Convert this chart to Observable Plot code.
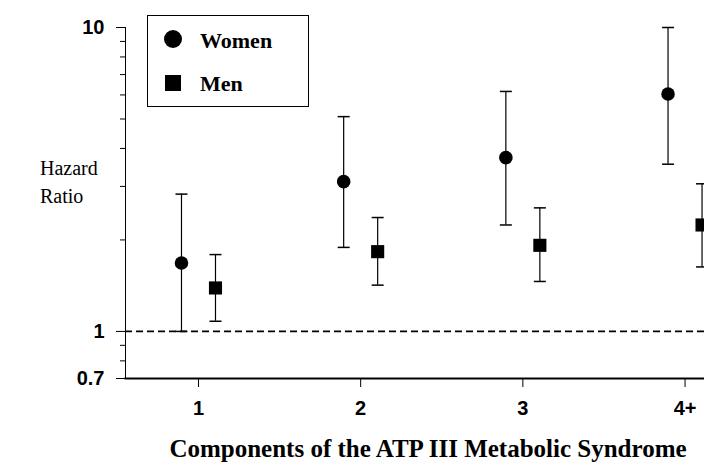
<!DOCTYPE html>
<html>
<head>
<meta charset="utf-8">
<script src="https://cdn.jsdelivr.net/npm/d3@7"></script>
<script src="https://cdn.jsdelivr.net/npm/@observablehq/plot@0.6"></script>
<style>
  html, body { margin: 0; padding: 0; background: #fff; overflow: hidden; }
  #wrap { position: relative; width: 704px; height: 470px; overflow: hidden; }
  #chart svg { display: block; }
  #chart svg text { font-size: 20px !important; font-weight: bold !important; }
  .serif { font-family: "Liberation Serif", "Times New Roman", serif; color: #000; position: absolute; white-space: nowrap; }
  #ylab { left: 40px; top: 154px; font-size: 20px; line-height: 28px; }
  #title { left: 0; width: 856px; text-align: center; top: 435px; font-size: 25px; font-weight: bold; line-height: 28px; }
  #legend { left: 147px; top: 15px; width: 160px; height: 90px; border: 1.5px solid #000; background: #fff; }
  #legend svg { position: absolute; left: 0; top: 0; }
  #legend .lt { position: absolute; left: 52px; font-size: 22px; font-weight: bold; line-height: 24px; }
</style>
</head>
<body>
<div id="wrap">
  <div id="chart"></div>
  <div id="ylab" class="serif">Hazard<br>Ratio</div>
  <div id="title" class="serif">Components of the ATP III Metabolic Syndrome</div>
  <div id="legend" class="serif">
    <svg width="160" height="90">
      <circle cx="25" cy="23" r="9" fill="#000"></circle>
      <rect x="17" y="59" width="16" height="16" fill="#000"></rect>
    </svg>
    <div class="lt" style="top:13px">Women</div>
    <div class="lt" style="top:56px">Men</div>
  </div>
</div>
<script>
// ---- data ----
const categories = ["1", "2", "3", "4+"];
const womenHR = [1.68, 3.11, 3.73, 6.04];
const womenLo = [1.00, 1.89, 2.24, 3.55];
const womenHi = [2.83, 5.09, 6.16, 10.0];
const menHR = [1.39, 1.83, 1.92, 2.24];
const menLo = [1.08, 1.42, 1.46, 1.63];
const menHi = [1.79, 2.37, 2.55, 3.06];
const yMajorTicks = [0.7, 1, 10];
const yMinorTicks = [0.8, 0.9, 2, 3, 4, 5, 6, 7, 8, 9];

const women = categories.map((c, i) => ({k: i + 1, hr: womenHR[i], lo: womenLo[i], hi: womenHi[i]}));
const men = categories.map((c, i) => ({k: i + 1, hr: menHR[i], lo: menLo[i], hi: menHi[i]}));

const cap = {draw(ctx) { ctx.moveTo(-6, 0); ctx.lineTo(6, 0); }};

const chart = Plot.plot({
  width: 704,
  height: 470,
  marginLeft: 125,
  marginTop: 27,
  marginBottom: 92,
  marginRight: 0,
  x: {type: "linear", domain: [0.55, 4.12]},
  y: {type: "log", domain: [0.7, 10]},
  style: {fontFamily: "'Liberation Sans', Arial, sans-serif", fontSize: "20px", fontWeight: "bold", color: "#000", background: "#fff"},
  marks: [
    Plot.ruleY([1], {stroke: "#000", strokeWidth: 1.6, strokeDasharray: "7,4"}),
    Plot.axisY({ticks: yMajorTicks, tickFormat: d => String(d), tickSize: 9, tickPadding: 12, fontSize: 20, fontWeight: "bold", label: null, stroke: "#000", strokeOpacity: 1}),
    Plot.axisY({ticks: yMinorTicks, text: null, tickSize: 5, label: null, stroke: "#000", strokeOpacity: 1}),
    Plot.axisX({ticks: [1, 2, 3, 4], tickFormat: d => categories[d - 1], tickSize: 9, tickPadding: 13, fontSize: 20, fontWeight: "bold", label: null, stroke: "#000", strokeOpacity: 1}),
    Plot.frame({anchor: "left", stroke: "#000", strokeWidth: 1}),
    Plot.frame({anchor: "bottom", stroke: "#000", strokeWidth: 2}),
    // women
    Plot.ruleX(women, {x: "k", y1: "lo", y2: "hi", dx: -17, stroke: "#000", strokeWidth: 1.2}),
    Plot.dot(women, {x: "k", y: "hi", dx: -17, symbol: cap, fill: "none", stroke: "#000", strokeWidth: 1.5}),
    Plot.dot(women, {x: "k", y: "lo", dx: -17, symbol: cap, fill: "none", stroke: "#000", strokeWidth: 1.5}),
    Plot.dot(women, {x: "k", y: "hr", dx: -17, symbol: "circle", r: 6.8, fill: "#000", stroke: "none"}),
    // men
    Plot.ruleX(men, {x: "k", y1: "lo", y2: "hi", dx: 17, stroke: "#000", strokeWidth: 1.2}),
    Plot.dot(men, {x: "k", y: "hi", dx: 17, symbol: cap, fill: "none", stroke: "#000", strokeWidth: 1.5}),
    Plot.dot(men, {x: "k", y: "lo", dx: 17, symbol: cap, fill: "none", stroke: "#000", strokeWidth: 1.5}),
    Plot.dot(men, {x: "k", y: "hr", dx: 17, symbol: "square", r: 7.4, fill: "#000", stroke: "none"})
  ]
});
document.getElementById("chart").appendChild(chart);
</script>
</body>
</html>
